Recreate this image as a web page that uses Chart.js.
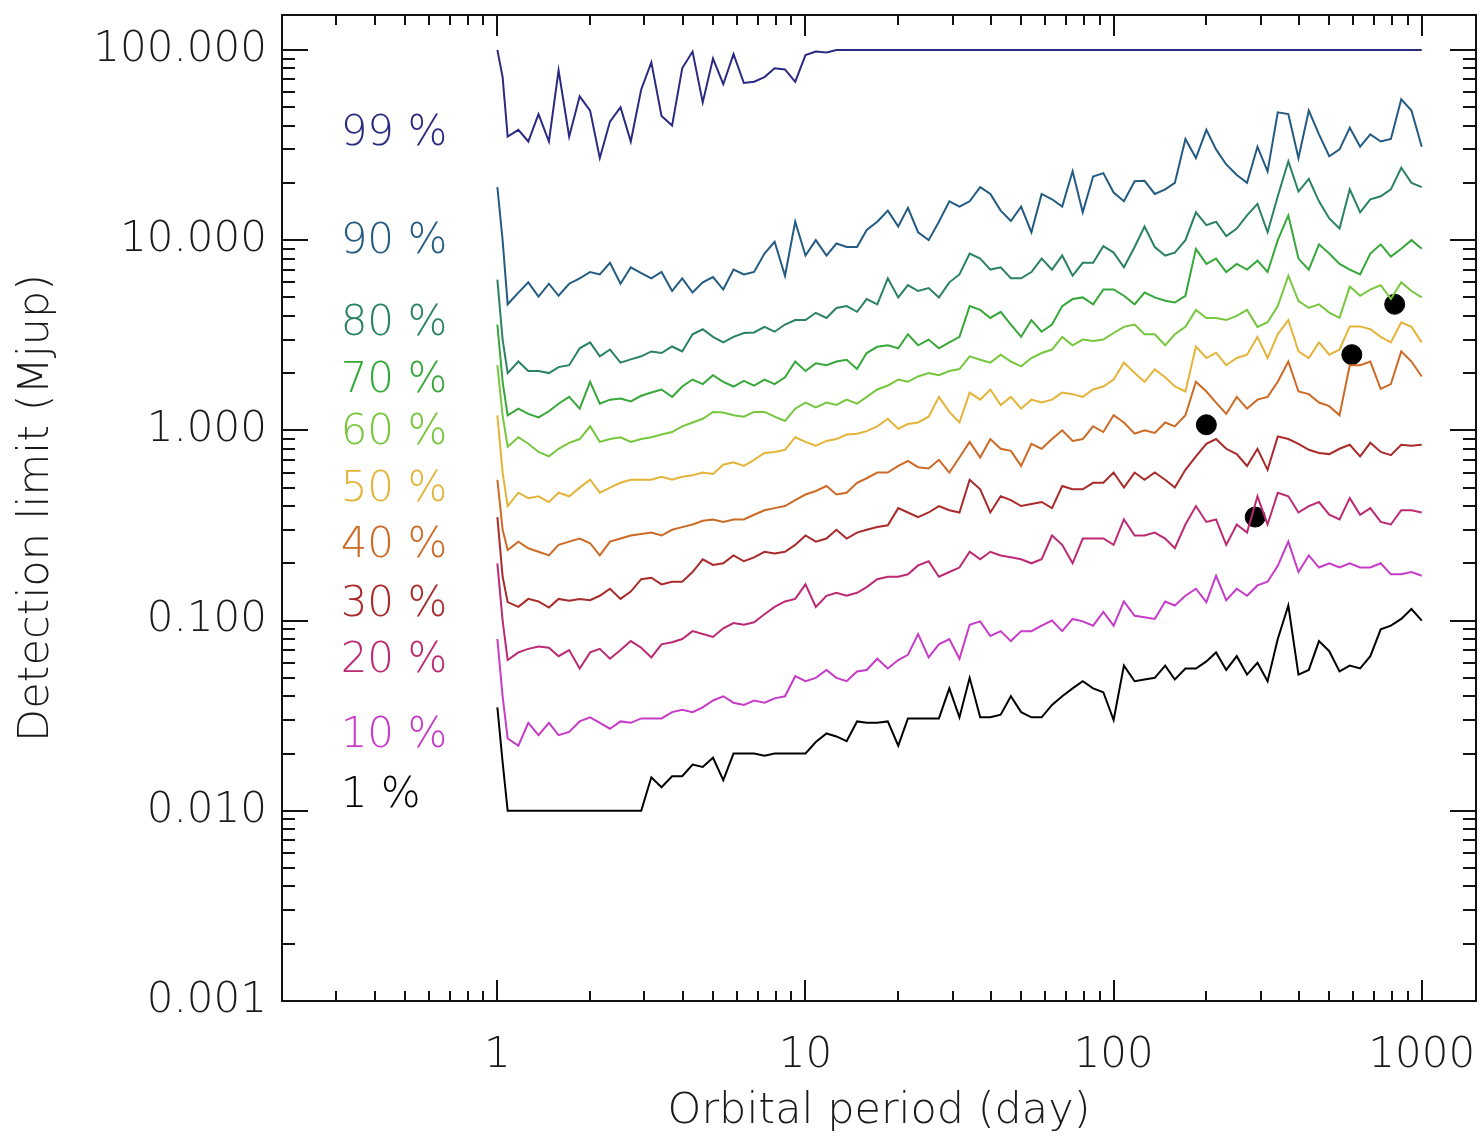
<!DOCTYPE html>
<html>
<head>
<meta charset="utf-8">
<script src="https://cdn.jsdelivr.net/npm/chart.js@4.4.1/dist/chart.umd.min.js"></script>
<style>
  html, body { margin: 0; padding: 0; background: #fff; }
  canvas { display: block; }
</style>
</head>
<body>
<canvas id="limits_chart" width="1481" height="1138"></canvas>
<script>
// orbital periods (day) where the limits were computed
var periods = [1, 1.04, 1.08, 1.17, 1.26, 1.36, 1.47, 1.58, 1.71, 1.85, 2.0, 2.15, 2.32, 2.51, 2.71, 2.93,
  3.16, 3.41, 3.69, 3.98, 4.3, 4.64, 5.01, 5.41, 5.84, 6.31, 6.81, 7.36, 7.94, 8.58, 9.26,
  10, 10.8, 11.7, 12.6, 13.6, 14.7, 15.8, 17.1, 18.5, 20.0, 21.5, 23.2, 25.1, 27.1, 29.3,
  31.6, 34.1, 36.9, 39.8, 43.0, 46.4, 50.1, 54.1, 58.4, 63.1, 68.1, 73.6, 79.4, 85.8, 92.6,
  100, 108, 117, 126, 136, 147, 158, 171, 185, 200, 215, 232, 251, 271, 293,
  316, 341, 369, 398, 430, 464, 501, 541, 584, 631, 681, 736, 794, 858, 926, 1000];

// detection limits (Mjup) per detection probability
var lim99 = [100, 72, 35, 38, 33, 46, 33, 78, 35, 57, 48, 27, 42, 50, 33, 62, 86, 45, 40, 80, 98, 53, 90, 66, 95, 67, 68, 72, 80, 79, 68, 94, 98, 97,
  100, 100, 100, 100, 100, 100, 100, 100, 100, 100, 100, 100, 100, 100, 100, 100, 100, 100, 100, 100, 100, 100, 100, 100, 100, 100,
  100, 100, 100, 100, 100, 100, 100, 100, 100, 100, 100, 100, 100, 100, 100, 100, 100, 100, 100, 100, 100, 100, 100, 100, 100, 100, 100, 100,
  100, 100, 100, 100];
var lim90 = [19, 10, 4.6, 5.3, 6.0, 5.05, 5.9, 5.1, 5.9, 6.3, 6.8, 6.6, 7.6, 5.9, 7.2, 6.7, 6.3, 6.8, 5.4, 6.3, 5.3, 6.0, 6.4, 5.5, 7.0, 6.6, 6.8, 8.5, 9.8, 6.5, 12.5,
  8.3, 10, 8.3, 9.6, 9.2, 9.2, 11.3, 12.5, 14.3, 11.8, 14.8, 11, 10, 12.5, 16, 15, 16, 19, 17.5, 14.3, 12.6, 15, 11, 17.5, 16.4, 15, 23, 14, 21.6, 22.5,
  17.8, 16, 20.4, 20.5, 17.5, 18.5, 20, 34, 27, 38, 30, 25, 22, 20, 31, 23, 47, 46, 27, 48, 36, 27.6, 30, 39, 31, 36, 33, 34, 55, 48, 31];
var lim80 = [6.2, 3.0, 2.0, 2.3, 2.05, 2.05, 2.0, 2.15, 2.2, 2.7, 2.9, 2.45, 2.66, 2.27, 2.36, 2.45, 2.6, 2.55, 2.76, 2.6, 3.2, 3.4, 3.1, 2.9, 3.1, 3.25, 3.27, 3.5, 3.3, 3.6, 3.8,
  3.8, 4.15, 3.9, 4.4, 4.5, 4.2, 4.9, 4.6, 6.3, 5.0, 5.8, 5.4, 5.6, 5.0, 6.0, 6.6, 8.5, 8.0, 7.0, 7.2, 6.3, 6.3, 6.8, 8.0, 7.0, 8.3, 6.5, 7.6, 7.6, 9.3,
  8.6, 7.2, 9.2, 11.8, 9.2, 8.3, 8.6, 10, 14, 12, 12.5, 10.5, 11.5, 13.5, 15.5, 11, 17, 26, 18, 21, 16, 13, 11.5, 18.5, 14, 16.4, 17, 18.5, 24, 20, 19];
var lim70 = [3.6, 1.8, 1.2, 1.3, 1.22, 1.17, 1.26, 1.38, 1.5, 1.3, 1.8, 1.38, 1.45, 1.47, 1.42, 1.52, 1.58, 1.64, 1.5, 1.7, 1.85, 1.75, 1.95, 1.8, 1.7, 1.82, 1.72, 1.85, 1.75, 1.9, 2.3,
  2.05, 2.25, 2.2, 2.3, 2.35, 2.1, 2.55, 2.75, 2.8, 2.7, 3.2, 2.8, 3.0, 2.7, 2.9, 3.1, 4.5, 4.3, 3.9, 4.2, 3.6, 3.1, 3.8, 3.3, 3.6, 4.5, 4.9, 5.0, 4.6, 5.5,
  5.5, 5.1, 4.6, 5.3, 5.0, 4.8, 4.7, 5.1, 9, 7.5, 8.0, 6.8, 7.5, 7.0, 7.8, 6.8, 10, 13.5, 8, 7, 9.5, 8.5, 7.5, 7, 6.6, 8.5, 9.5, 8.2, 9.0, 10, 9];
var lim60 = [2.2, 1.2, 0.82, 0.92, 0.85, 0.77, 0.73, 0.8, 0.86, 0.9, 1.05, 0.87, 0.9, 0.92, 0.87, 0.9, 0.92, 0.95, 0.98, 1.05, 1.1, 1.15, 1.25, 1.24, 1.2, 1.18, 1.25, 1.25, 1.18, 1.12, 1.3,
  1.4, 1.32, 1.4, 1.36, 1.45, 1.38, 1.5, 1.64, 1.72, 1.85, 1.8, 1.92, 2.0, 1.95, 2.05, 2.1, 2.45, 2.35, 2.27, 2.5, 2.3, 2.17, 2.4, 2.55, 2.66, 3.1, 2.8, 3.0, 2.95, 3.0,
  3.25, 3.5, 3.6, 3.2, 3.2, 2.8, 3.2, 3.5, 4.3, 3.9, 3.9, 3.8, 4.0, 4.3, 3.5, 3.7, 4.5, 6.5, 4.8, 4.4, 4.6, 4.16, 3.9, 5.7, 5.1, 5.5, 5.8, 4.9, 6.0, 5.4, 5.0];
var lim50 = [1.2, 0.6, 0.40, 0.47, 0.44, 0.45, 0.42, 0.47, 0.45, 0.5, 0.55, 0.47, 0.5, 0.53, 0.55, 0.55, 0.55, 0.57, 0.55, 0.57, 0.58, 0.6, 0.59, 0.66, 0.68, 0.65, 0.7, 0.76, 0.77, 0.79, 0.92,
  0.87, 0.83, 0.88, 0.9, 0.95, 0.96, 0.99, 1.05, 1.15, 1.02, 1.08, 1.1, 1.18, 1.5, 1.25, 1.1, 1.58, 1.45, 1.64, 1.36, 1.5, 1.3, 1.45, 1.4, 1.45, 1.58, 1.55, 1.5, 1.64, 1.7,
  1.85, 2.27, 2.0, 1.8, 2.09, 1.9, 1.7, 1.6, 2.76, 2.4, 2.56, 2.2, 2.4, 2.5, 3.1, 2.4, 3.2, 3.8, 2.6, 2.4, 2.9, 2.5, 2.66, 3.52, 3.52, 3.4, 3.1, 2.9, 3.7, 3.5, 2.9];
var lim40 = [0.55, 0.3, 0.235, 0.26, 0.24, 0.23, 0.22, 0.25, 0.26, 0.27, 0.255, 0.22, 0.26, 0.27, 0.28, 0.285, 0.29, 0.28, 0.30, 0.31, 0.32, 0.335, 0.34, 0.33, 0.34, 0.34, 0.36, 0.38, 0.39, 0.40, 0.43,
  0.46, 0.48, 0.51, 0.46, 0.47, 0.53, 0.56, 0.6, 0.6, 0.65, 0.69, 0.64, 0.63, 0.7, 0.6, 0.72, 0.87, 0.72, 0.9, 0.8, 0.78, 0.65, 0.85, 0.8, 0.9, 1.0, 0.88, 0.9, 1.05, 0.98,
  1.2, 1.1, 0.96, 1.0, 0.97, 1.1, 1.05, 1.2, 1.8, 1.6, 1.4, 1.22, 1.5, 1.3, 1.45, 1.5, 1.8, 2.3, 1.6, 1.55, 1.4, 1.34, 1.2, 2.2, 2.2, 2.3, 1.65, 1.75, 2.6, 2.3, 1.92];
var lim30 = [0.35, 0.17, 0.125, 0.118, 0.13, 0.126, 0.117, 0.13, 0.127, 0.13, 0.128, 0.135, 0.147, 0.13, 0.142, 0.165, 0.168, 0.155, 0.16, 0.16, 0.18, 0.21, 0.196, 0.2, 0.22, 0.205, 0.215, 0.23, 0.225, 0.23, 0.25,
  0.28, 0.26, 0.27, 0.30, 0.27, 0.29, 0.3, 0.31, 0.317, 0.39, 0.37, 0.35, 0.37, 0.40, 0.38, 0.37, 0.55, 0.49, 0.37, 0.45, 0.43, 0.4, 0.41, 0.42, 0.39, 0.51, 0.49, 0.49, 0.53, 0.53,
  0.6, 0.5, 0.6, 0.55, 0.6, 0.55, 0.5, 0.62, 0.73, 0.85, 0.9, 0.8, 0.75, 0.65, 0.8, 0.62, 0.93, 0.9, 0.85, 0.79, 0.76, 0.75, 0.8, 0.84, 0.73, 0.86, 0.77, 0.74, 0.84, 0.83, 0.84];
var lim20 = [0.2, 0.1, 0.062, 0.068, 0.071, 0.073, 0.072, 0.065, 0.07, 0.056, 0.068, 0.071, 0.063, 0.07, 0.078, 0.072, 0.064, 0.075, 0.077, 0.08, 0.088, 0.085, 0.082, 0.091, 0.097, 0.095, 0.098, 0.108, 0.118, 0.126, 0.13,
  0.155, 0.118, 0.135, 0.14, 0.135, 0.14, 0.15, 0.165, 0.17, 0.17, 0.175, 0.195, 0.205, 0.17, 0.18, 0.19, 0.23, 0.21, 0.23, 0.22, 0.215, 0.21, 0.2, 0.21, 0.28, 0.25, 0.2, 0.27, 0.27, 0.27,
  0.25, 0.34, 0.28, 0.28, 0.29, 0.27, 0.24, 0.32, 0.40, 0.33, 0.34, 0.25, 0.32, 0.29, 0.45, 0.32, 0.47, 0.45, 0.37, 0.40, 0.42, 0.36, 0.34, 0.44, 0.36, 0.39, 0.33, 0.32, 0.38, 0.38, 0.37];
var lim10 = [0.08, 0.04, 0.024, 0.022, 0.029, 0.025, 0.029, 0.025, 0.026, 0.0295, 0.031, 0.029, 0.027, 0.0295, 0.029, 0.0306, 0.0306, 0.0306, 0.033, 0.034, 0.033, 0.035, 0.038, 0.040, 0.037, 0.036, 0.038, 0.037, 0.039, 0.040, 0.051,
  0.048, 0.05, 0.055, 0.05, 0.048, 0.054, 0.055, 0.063, 0.056, 0.062, 0.066, 0.085, 0.064, 0.075, 0.08, 0.063, 0.095, 0.099, 0.083, 0.088, 0.078, 0.088, 0.088, 0.094, 0.1, 0.088, 0.102, 0.099, 0.094, 0.111,
  0.094, 0.126, 0.106, 0.104, 0.102, 0.126, 0.12, 0.135, 0.147, 0.125, 0.172, 0.128, 0.147, 0.135, 0.153, 0.16, 0.194, 0.26, 0.18, 0.22, 0.19, 0.2, 0.19, 0.2, 0.19, 0.19, 0.2, 0.175, 0.175, 0.18, 0.172];
var lim1 = [0.035, 0.018, 0.01, 0.01, 0.01, 0.01, 0.01, 0.01, 0.01, 0.01, 0.01, 0.01, 0.01, 0.01, 0.01, 0.01, 0.015, 0.0133, 0.0152, 0.0152, 0.0175, 0.017, 0.019, 0.0145, 0.02, 0.02, 0.02, 0.0195, 0.02, 0.02, 0.02,
  0.02, 0.023, 0.0255, 0.0246, 0.0232, 0.0295, 0.029, 0.029, 0.0295, 0.022, 0.0306, 0.0306, 0.0306, 0.0306, 0.044, 0.031, 0.05, 0.031, 0.031, 0.032, 0.04, 0.033, 0.031, 0.031, 0.036, 0.04, 0.044, 0.048, 0.044, 0.042,
  0.03, 0.058, 0.048, 0.049, 0.05, 0.058, 0.049, 0.056, 0.056, 0.061, 0.068, 0.055, 0.065, 0.052, 0.06, 0.048, 0.08, 0.12, 0.052, 0.055, 0.078, 0.069, 0.054, 0.058, 0.056, 0.065, 0.09, 0.094, 0.102, 0.115, 0.1];

// known planets
var planetPeriods = [200, 288, 593, 817];
var planetMasses = [1.07, 0.35, 2.5, 4.6];

var levelLabels = ['99 %', '90 %', '80 %', '70 %', '60 %', '50 %', '40 %', '30 %', '20 %', '10 %', '1 %'];
var xTickValues = [1, 10, 100, 1000];
var xTickLabels = ['1', '10', '100', '1000'];
var yTickValues = [0.001, 0.01, 0.1, 1, 10, 100];
var yTickLabels = ['0.001', '0.010', '0.100', '1.000', '10.000', '100.000'];

var levels = [lim99, lim90, lim80, lim70, lim60, lim50, lim40, lim30, lim20, lim10, lim1];
var levelColors = ['#2a2a82', '#245b82', '#2a8262', '#36a83a', '#76c63e', '#e4b43a', '#cc6a26', '#a82a2a', '#bb2a72', '#c63cc8', '#000000'];
// where each percentage label sits (data space)
var labelAnchorX = 0.31;
var labelAnchorY = [36, 9.76, 3.6, 1.81, 0.965, 0.484, 0.246, 0.121, 0.0613, 0.0246, 0.012];

var datasets = [];
for (let i = 0; i < levels.length; i++) {
    datasets.push({
        type: 'line',
        label: levelLabels[i],
        data: periods.map((p, j) => ({x: p, y: levels[i][j]})),
        borderColor: levelColors[i],
        backgroundColor: levelColors[i],
        borderWidth: 2,
        pointRadius: 0,
        tension: 0,
        fill: false
    });
}
datasets.push({
    type: 'scatter',
    label: 'planets',
    data: planetPeriods.map((p, j) => ({x: p, y: planetMasses[j]})),
    backgroundColor: '#000',
    borderColor: '#000',
    pointRadius: 10,
    pointHoverRadius: 10
});

function tickIndex(list, v) {
    return list.findIndex(t => Math.abs(Math.log10(t) - Math.log10(v)) < 1e-6);
}

var tickFont = {family: "'DejaVu Sans', sans-serif", size: 42, weight: 200};
var titleFont = {family: "'DejaVu Sans', sans-serif", size: 43, weight: 200};

// no extra room for half labels at the ends of the axes
function fixBox(s, size) {
    if (s.isHorizontal()) s.height = size; else s.width = size;
    s.paddingLeft = 0; s.paddingRight = 0; s.paddingTop = 0; s.paddingBottom = 0;
}

// frame with inward ticks on all four sides, plus the percentage labels
var frameTicks = {
    id: 'frameTicks',
    afterDraw(chart) {
        var ctx = chart.ctx, a = chart.chartArea;
        var xs = chart.scales.x, ys = chart.scales.y;
        ctx.save();
        ctx.strokeStyle = '#111';
        ctx.lineWidth = 2;
        ctx.strokeRect(a.left, a.top, a.right - a.left, a.bottom - a.top);
        ctx.beginPath();
        for (let d = 0.1; d <= 1000; d *= 10) {
            for (let m = 1; m < 10; m++) {
                let v = d * m;
                if (v < xs.min || v > xs.max) continue;
                let px = Math.round(xs.getPixelForValue(v));
                let len = m === 1 ? 21 : 10;
                ctx.moveTo(px, a.bottom); ctx.lineTo(px, a.bottom - len);
                ctx.moveTo(px, a.top); ctx.lineTo(px, a.top + len);
            }
        }
        for (let d = 0.001; d <= 100; d *= 10) {
            for (let m = 1; m < 10; m++) {
                let v = d * m;
                if (v < ys.min || v > ys.max) continue;
                let py = Math.round(ys.getPixelForValue(v));
                let len = m === 1 ? 26 : 13;
                ctx.moveTo(a.left, py); ctx.lineTo(a.left + len, py);
                ctx.moveTo(a.right, py); ctx.lineTo(a.right - len, py);
            }
        }
        ctx.stroke();

        ctx.font = "200 42px 'DejaVu Sans', sans-serif";
        ctx.textAlign = 'left';
        ctx.textBaseline = 'middle';
        for (let i = 0; i < levelLabels.length; i++) {
            ctx.fillStyle = levelColors[i];
            ctx.fillText(levelLabels[i], xs.getPixelForValue(labelAnchorX), ys.getPixelForValue(labelAnchorY[i]));
        }
        ctx.restore();
    }
};

var ctx = document.getElementById('limits_chart').getContext('2d');

var chart = new Chart(ctx, {
    type: 'line',
    data: {datasets: datasets},
    options: {
        responsive: false,
        animation: false,
        devicePixelRatio: 1,
        layout: {autoPadding: false, padding: {top: 15, right: 5, left: 0, bottom: 0}},
        plugins: {
            legend: {display: false},
            tooltip: {enabled: false}
        },
        scales: {
            x: {
                type: 'logarithmic',
                min: 0.2,
                max: 1500,
                border: {display: false},
                grid: {display: false, drawTicks: false},
                ticks: {
                    autoSkip: false,
                    maxRotation: 0,
                    padding: 30,
                    color: '#1a1a1a',
                    font: tickFont,
                    callback: function (v) {
                        var i = tickIndex(xTickValues, v);
                        return i >= 0 ? xTickLabels[i] : '';
                    }
                },
                title: {
                    display: true,
                    text: 'Orbital period (day)',
                    color: '#1a1a1a',
                    font: titleFont,
                    padding: {top: 0, bottom: 0}
                },
                afterFit: function (s) { fixBox(s, 137); }
            },
            y: {
                type: 'logarithmic',
                min: 0.001,
                max: 152.6,
                border: {display: false},
                grid: {display: false, drawTicks: false},
                ticks: {
                    autoSkip: false,
                    padding: 15,
                    color: '#1a1a1a',
                    font: tickFont,
                    callback: function (v) {
                        var i = tickIndex(yTickValues, v);
                        return i >= 0 ? yTickLabels[i] : '';
                    }
                },
                title: {
                    display: true,
                    text: 'Detection limit (Mjup)',
                    color: '#1a1a1a',
                    font: titleFont,
                    padding: {top: 11, bottom: 0}
                },
                afterFit: function (s) { fixBox(s, 282); }
            }
        }
    },
    plugins: [frameTicks]
});
</script>
</body>
</html>
